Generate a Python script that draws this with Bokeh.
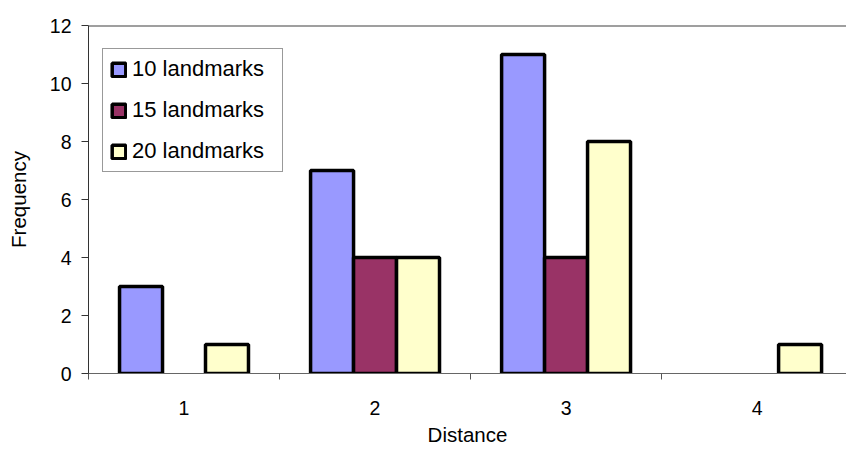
from bokeh.plotting import figure
from bokeh.models import ColumnDataSource, FixedTicker, Span, Legend, LegendItem
from bokeh.embed import file_html
from bokeh.resources import INLINE

# Frequency of each distance for three landmark counts
distances = [1, 2, 3, 4]
freq_10 = [3, 7, 11, 0]
freq_15 = [0, 4, 4, 0]
freq_20 = [1, 4, 8, 1]
series_names = ["10 landmarks", "15 landmarks", "20 landmarks"]
series_colors = ["#9999FF", "#993366", "#FFFFCC"]
y_ticks = [0, 2, 4, 6, 8, 10, 12]

FONT = "Liberation Sans"

p = figure(width=846, height=450, x_range=(0.5, 4.468), y_range=(0, 12),
           min_border_left=88, min_border_right=0, min_border_top=25,
           min_border_bottom=77, output_backend="svg", toolbar_location=None)
p.outline_line_color = None
p.xgrid.grid_line_color = None
p.ygrid.grid_line_color = None

# Top border of the plot area
p.add_layout(Span(location=12, dimension="width", line_color="#404040",
                  line_width=2))

bar_w = 0.225
offsets = [-bar_w, 0.0, bar_w]
legend_items = []
for name, color, vals, off in zip(series_names, series_colors,
                                  [freq_10, freq_15, freq_20], offsets):
    xs = [d + off for d, v in zip(distances, vals) if v > 0]
    ys = [v for v in vals if v > 0]
    src = ColumnDataSource(data=dict(x=xs, top=ys))
    r = p.vbar(x="x", top="top", bottom=0, width=bar_w, source=src,
               fill_color=color, line_color="black", line_width=3.5)
    legend_items.append(LegendItem(label=name, renderers=[r]))

legend = Legend(items=legend_items, location=(14, 201), margin=0, padding=7,
                spacing=15, glyph_width=17, glyph_height=17, label_height=22,
                label_width=143, label_standoff=5,
                label_text_font=FONT, label_text_font_size="22px",
                label_text_color="black", border_line_color="#333333",
                border_line_width=1, background_fill_alpha=1)
p.add_layout(legend, "center")

# X axis: labels at category centres, ticks between categories
p.xaxis.ticker = FixedTicker(ticks=distances, minor_ticks=[0.5, 1.5, 2.5, 3.5])
p.xaxis.major_tick_line_color = None
p.xaxis.major_tick_out = 0
p.xaxis.major_tick_in = 0
p.xaxis.minor_tick_out = 6
p.xaxis.minor_tick_in = 0
p.xaxis.minor_tick_line_color = "#555555"
p.xaxis.axis_line_color = "#666666"
p.xaxis.major_label_standoff = 21
p.xaxis.axis_label = "Distance"
p.xaxis.axis_label_standoff = 5

# Y axis
p.yaxis.ticker = FixedTicker(ticks=y_ticks)
p.yaxis.minor_tick_line_color = None
p.yaxis.major_tick_out = 7
p.yaxis.major_tick_in = 0
p.yaxis.major_tick_line_color = "#333333"
p.yaxis.axis_line_color = "#333333"
p.yaxis.major_label_standoff = 10
p.yaxis.axis_label = "Frequency"
p.yaxis.axis_label_standoff = 17

for ax in (p.xaxis, p.yaxis):
    ax.major_label_text_font = FONT
    ax.major_label_text_font_size = "19.5px"
    ax.major_label_text_color = "black"
    ax.axis_label_text_font = FONT
    ax.axis_label_text_font_size = "20.5px"
    ax.axis_label_text_font_style = "normal"
    ax.axis_label_text_color = "black"

open("out.html", "w").write(file_html(p, INLINE))
